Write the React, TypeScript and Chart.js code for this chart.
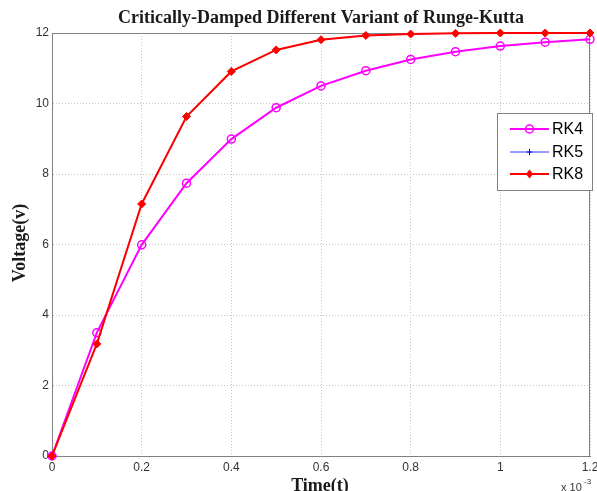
import React, { useEffect, useRef } from "react";
import { Chart, registerables } from "chart.js";

Chart.register(...registerables);

const TITLE = "Critically-Damped Different Variant of Runge-Kutta";
const X_LABEL = "Time(t)";
const Y_LABEL = "Voltage(v)";
const time = [0, 0.0001, 0.0002, 0.0003, 0.0004, 0.0005, 0.0006, 0.0007, 0.0008, 0.0009, 0.001, 0.0011, 0.0012];
const rk4 = [0, 3.5, 5.99, 7.74, 8.99, 9.88, 10.5, 10.93, 11.25, 11.47, 11.63, 11.74, 11.82];
const rk5 = [0, 3.18, 7.15, 9.63, 10.91, 11.52, 11.81, 11.93, 11.97, 11.99, 12.0, 12.0, 12.0];
const rk8 = [0, 3.18, 7.15, 9.63, 10.91, 11.52, 11.81, 11.93, 11.97, 11.99, 12.0, 12.0, 12.0];
const seriesNames = ["RK4", "RK5", "RK8"];

const SERIF = "'Liberation Serif', 'Times New Roman', serif";
const SANS = "'Liberation Sans', Arial, sans-serif";

function drawMarker(ctx: CanvasRenderingContext2D, kind: string, x: number, y: number) {
  ctx.save();
  if (kind === "circle") {
    ctx.strokeStyle = "#ff00ff";
    ctx.lineWidth = 1.5;
    ctx.beginPath();
    ctx.arc(x, y, 4, 0, Math.PI * 2);
    ctx.stroke();
  } else if (kind === "cross") {
    ctx.strokeStyle = "#0000ff";
    ctx.lineWidth = 1;
    ctx.beginPath();
    ctx.moveTo(x - 3, y);
    ctx.lineTo(x + 3, y);
    ctx.moveTo(x, y - 3);
    ctx.lineTo(x, y + 3);
    ctx.stroke();
  } else {
    ctx.fillStyle = "#ff0000";
    ctx.beginPath();
    ctx.moveTo(x, y - 4.5);
    ctx.lineTo(x + 3.5, y);
    ctx.lineTo(x, y + 4.5);
    ctx.lineTo(x - 3.5, y);
    ctx.closePath();
    ctx.fill();
  }
  ctx.restore();
}

const decorPlugin = {
  id: "decor",
  beforeDatasetsDraw(chart: any) {
    const { ctx, chartArea } = chart;
    ctx.save();
    ctx.strokeStyle = "#808080";
    ctx.lineWidth = 1;
    ctx.strokeRect(chartArea.left + 0.5, chartArea.top + 0.5, chartArea.right - chartArea.left - 1, chartArea.bottom - chartArea.top);
    ctx.restore();
  },
  afterDraw(chart: any) {
    const { ctx } = chart;
    ctx.save();
    ctx.fillStyle = "#1a1a1a";
    ctx.textAlign = "center";
    ctx.textBaseline = "alphabetic";
    ctx.font = `bold 18px ${SERIF}`;
    ctx.fillText(TITLE, 321, 23);
    ctx.textBaseline = "middle";
    ctx.fillText(X_LABEL, 320, 486);
    ctx.save();
    ctx.translate(20, 243);
    ctx.rotate(-Math.PI / 2);
    ctx.fillText(Y_LABEL, 0, 0);
    ctx.restore();
    // exponent
    ctx.fillStyle = "#333";
    ctx.textAlign = "left";
    ctx.textBaseline = "alphabetic";
    ctx.font = `11px ${SANS}`;
    ctx.fillText("x 10", 561, 491);
    ctx.font = `8px ${SANS}`;
    ctx.fillText("-3", 584, 484);

    // legend
    const bx = 497, by = 113, bw = 95, bh = 77;
    ctx.fillStyle = "#ffffff";
    ctx.fillRect(bx, by, bw, bh);
    ctx.strokeStyle = "#808080";
    ctx.lineWidth = 1;
    ctx.strokeRect(bx + 0.5, by + 0.5, bw, bh);
    const rows = [129, 152, 174];
    const colors = ["#ff00ff", "#0000ff", "#ff0000"];
    const widths = [2, 0.8, 2];
    const markers = ["circle", "cross", "diamond"];
    for (let i = 0; i < 3; i++) {
      const y = rows[i];
      ctx.strokeStyle = colors[i];
      ctx.lineWidth = widths[i];
      ctx.beginPath();
      ctx.moveTo(510, y);
      ctx.lineTo(549, y);
      ctx.stroke();
      drawMarker(ctx, markers[i], 529.5, y);
      ctx.fillStyle = "#000";
      ctx.font = `16px ${SANS}`;
      ctx.textBaseline = "middle";
      ctx.textAlign = "left";
      ctx.fillText(seriesNames[i], 552, y + 1);
    }
    ctx.restore();
  },
};

export default function App() {
  const ref = useRef<HTMLCanvasElement | null>(null);
  useEffect(() => {
    document.body.style.margin = "0";
    const canvas = ref.current;
    if (!canvas) return;
    const pts = (ys: number[]) => time.map((t, i) => ({ x: t, y: ys[i] }));
    const chart = new Chart(canvas, {
      type: "line",
      data: {
        datasets: [
          {
            label: seriesNames[0],
            data: pts(rk4),
            borderColor: "#ff00ff",
            backgroundColor: "rgba(0,0,0,0)",
            borderWidth: 2,
            pointStyle: "circle",
            pointRadius: 4,
            pointBorderWidth: 1.5,
            pointBorderColor: "#ff00ff",
            pointBackgroundColor: "rgba(0,0,0,0)",
            tension: 0,
            clip: false,
            order: 3,
          },
          {
            label: seriesNames[1],
            data: pts(rk5),
            borderColor: "#0000ff",
            borderWidth: 0.8,
            pointStyle: "cross",
            pointRadius: 3,
            pointBorderWidth: 1,
            pointBorderColor: "#0000ff",
            tension: 0,
            clip: false,
            order: 2,
          },
          {
            label: seriesNames[2],
            data: pts(rk8),
            borderColor: "#ff0000",
            backgroundColor: "#ff0000",
            borderWidth: 2,
            pointStyle: "rectRot",
            pointRadius: 4,
            pointBorderWidth: 1,
            pointBorderColor: "#ff0000",
            pointBackgroundColor: "#ff0000",
            tension: 0,
            clip: false,
            order: 1,
          },
        ],
      },
      options: {
        responsive: false,
        animation: false,
        layout: { padding: { top: 33, right: 7, left: 0, bottom: 0 } },
        plugins: {
          legend: { display: false },
          title: { display: false },
          tooltip: { enabled: false },
        },
        scales: {
          x: {
            type: "linear",
            min: 0,
            max: 0.0012,
            afterFit: (s: any) => {
              s.height = 35;
              s.paddingLeft = 0;
              s.paddingRight = 0;
            },
            ticks: {
              stepSize: 0.0002,
              color: "#333",
              font: { family: SANS, size: 12 },
              padding: 4,
              maxRotation: 0,
              autoSkip: false,
              callback: (v: any) => String(Math.round(Number(v) * 10000) / 10),
            },
            grid: { color: "#c4c4c4", drawTicks: false, lineWidth: 1 },
            border: { color: "#808080", width: 1, dash: [1, 2] },
          },
          y: {
            min: 0,
            max: 12,
            afterFit: (s: any) => {
              s.width = 52;
              s.paddingTop = 0;
              s.paddingBottom = 0;
            },
            ticks: {
              stepSize: 2,
              color: "#333",
              font: { family: SANS, size: 12 },
              padding: 3,
            },
            grid: { color: "#c4c4c4", drawTicks: false, lineWidth: 1 },
            border: { color: "#808080", width: 1, dash: [1, 2] },
          },
        },
      },
      plugins: [decorPlugin],
    } as any);
    return () => chart.destroy();
  }, []);
  return <canvas ref={ref} width={597} height={491} style={{ display: "block" }} />;
}
